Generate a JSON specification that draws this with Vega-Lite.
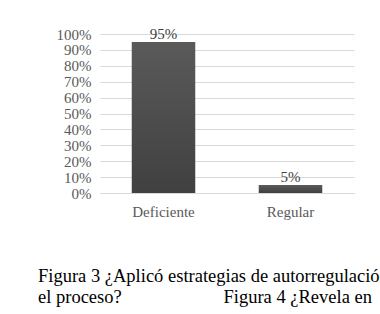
{
  "$schema": "https://vega.github.io/schema/vega-lite/v6.json",
  "autosize": {"type": "none"},
  "width": 254,
  "height": 159,
  "padding": {"left": 100, "top": 34, "right": 26, "bottom": 121},
  "background": "white",
  "data": {"values": [
    {"categoria": "Deficiente", "porcentaje": 0.95},
    {"categoria": "Regular", "porcentaje": 0.05}
  ]},
  "title": {
    "text": [
      "Figura 3 ¿Aplicó estrategias de autorregulació",
      "el proceso?\u00a0\u00a0\u00a0\u00a0\u00a0\u00a0\u00a0\u00a0\u00a0\u00a0\u00a0\u00a0\u00a0\u00a0\u00a0\u00a0\u00a0\u00a0\u00a0\u00a0\u00a0\u00a0Figura 4 ¿Revela en"
    ],
    "orient": "bottom",
    "anchor": "start",
    "frame": "group",
    "dx": -62,
    "offset": 48,
    "font": "Liberation Serif",
    "fontSize": 18.5,
    "fontWeight": "normal",
    "color": "#000000",
    "lineHeight": 21
  },
  "encoding": {
    "x": {
      "field": "categoria",
      "type": "nominal",
      "sort": null,
      "scale": {"paddingInner": 0.5, "paddingOuter": 0.25},
      "axis": {
        "title": null,
        "labelAngle": 0,
        "labelFont": "Liberation Serif",
        "labelFontSize": 15,
        "labelColor": "#595959",
        "labelPadding": 11,
        "ticks": false,
        "domainColor": "#d9d9d9"
      }
    },
    "y": {
      "field": "porcentaje",
      "type": "quantitative",
      "scale": {"domain": [0, 1]},
      "axis": {
        "title": null,
        "values": [0, 0.1, 0.2, 0.3, 0.4, 0.5, 0.6, 0.7, 0.8, 0.9, 1],
        "format": ".0%",
        "labelFont": "Liberation Serif",
        "labelFontSize": 15,
        "labelColor": "#595959",
        "labelPadding": 9,
        "ticks": false,
        "domain": false,
        "gridColor": "#d9d9d9",
        "gridWidth": 1
      }
    }
  },
  "layer": [
    {
      "mark": {
        "type": "bar",
        "color": {
          "gradient": "linear",
          "x1": 0, "y1": 0, "x2": 0, "y2": 1,
          "stops": [
            {"offset": 0, "color": "#5a5a5a"},
            {"offset": 1, "color": "#404040"}
          ]
        }
      }
    },
    {
      "mark": {
        "type": "text",
        "baseline": "bottom",
        "dy": 0,
        "font": "Liberation Serif",
        "fontSize": 15,
        "color": "#404040"
      },
      "encoding": {
        "text": {"field": "porcentaje", "type": "quantitative", "format": ".0%"}
      }
    }
  ],
  "config": {
    "font": "Liberation Serif",
    "view": {"stroke": null}
  }
}
